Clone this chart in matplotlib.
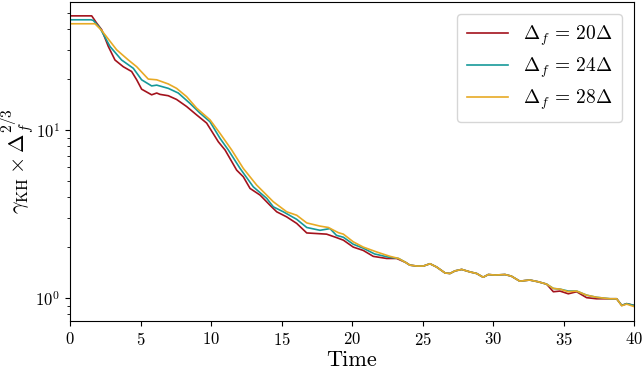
import matplotlib
matplotlib.use("Agg")
import matplotlib.pyplot as plt

plt.rcParams['mathtext.fontset'] = 'cm'
plt.rcParams['font.family'] = 'serif'
plt.rcParams['font.serif'] = ['cmr10', 'DejaVu Serif']
plt.rcParams['axes.formatter.use_mathtext'] = True
plt.rcParams['axes.unicode_minus'] = False

# values
t_20 = [0, 1.4, 1.54, 1.89, 2.25, 2.72, 3.19, 3.78, 4.37, 4.73, 5.08, 5.79, 6.15, 6.38, 6.97,
        7.56, 8.27, 8.98, 9.69, 10.52, 11.0, 11.82, 12.29, 12.77, 13.48, 14.18, 14.66, 15.37,
        16.08, 16.79, 17.5, 18.2, 18.9, 19.39, 20.09, 20.8, 21.51, 22.46, 23.17, 23.8, 24.1,
        24.6, 25.06, 25.53, 26.0, 26.6, 26.95, 27.3, 27.78, 28.37, 28.84, 29.3, 29.67, 30.14,
        30.85, 31.3, 31.9, 32.6, 33.2, 33.8, 34.28, 34.75, 35.34, 35.93, 36.64, 37.35, 38.3,
        38.77, 39.13, 39.48, 40.0]
g_20 = [47.8, 47.8, 47.8, 43.3, 39.5, 31.4, 26.1, 23.8, 22.3, 19.9, 17.5, 16.2, 16.6, 16.3, 16.0,
        15.2, 13.8, 12.3, 11.0, 8.51, 7.60, 5.77, 5.27, 4.49, 4.10, 3.57, 3.26, 3.04,
        2.78, 2.44, 2.42, 2.40, 2.29, 2.21, 2.01, 1.92, 1.77, 1.72, 1.72, 1.63, 1.57,
        1.55, 1.55, 1.60, 1.53, 1.41, 1.40, 1.45, 1.48, 1.43, 1.40, 1.33, 1.38, 1.37,
        1.38, 1.35, 1.26, 1.28, 1.25, 1.21, 1.09, 1.10, 1.06, 1.09, 1.005, 0.99, 0.99,
        0.99, 0.904, 0.926, 0.904]

t_24 = [0, 1.5, 1.65, 2.13, 2.84, 3.66, 4.49, 5.08, 5.79, 6.15, 6.97, 7.68, 8.51, 9.22, 9.93,
        10.64, 11.23, 12.06, 13.0, 13.95, 14.42, 15.13, 16.08, 16.79, 17.73, 18.44, 18.9,
        19.39, 20.09, 20.8, 21.6, 22.6, 23.3, 23.8, 24.1, 24.6, 25.06, 25.53, 26.0, 26.6,
        26.95, 27.3, 27.78, 28.37, 28.84, 29.3, 29.67, 30.14, 30.85, 31.3, 31.9, 32.6, 33.2,
        33.8, 34.28, 34.75, 35.34, 35.93, 36.64, 37.35, 38.3, 38.77, 39.13, 39.48, 40.0]
g_24 = [45.3, 45.3, 44.9, 40.4, 31.4, 26.1, 23.3, 19.9, 18.3, 18.5, 17.7, 16.6, 14.4, 12.6, 11.2,
        8.92, 7.60, 5.91, 4.59, 3.92, 3.49, 3.26, 2.94, 2.63, 2.53, 2.59, 2.36,
        2.30, 2.09, 1.98, 1.83, 1.75, 1.72, 1.63, 1.57, 1.55, 1.55, 1.60, 1.53, 1.41,
        1.40, 1.45, 1.48, 1.43, 1.40, 1.33, 1.38, 1.37, 1.38, 1.35, 1.26, 1.28, 1.25,
        1.21, 1.14, 1.13, 1.10, 1.10, 1.04, 1.01, 0.99, 0.99, 0.904, 0.926, 0.904]

t_28 = [0, 1.6, 1.77, 2.25, 3.31, 4.14, 4.73, 5.55, 6.15, 6.97, 7.56, 8.27, 8.98, 9.93, 10.64,
        11.47, 12.29, 13.24, 14.42, 15.37, 16.08, 16.79, 17.73, 18.32, 19.03, 19.39, 20.09,
        20.8, 21.75, 22.7, 23.3, 23.8, 24.1, 24.6, 25.06, 25.53, 26.0, 26.6, 26.95, 27.3,
        27.78, 28.37, 28.84, 29.3, 29.67, 30.14, 30.85, 31.3, 31.9, 32.6, 33.2, 33.8, 34.28,
        34.75, 35.34, 35.93, 36.64, 37.35, 38.3, 38.77, 39.13, 39.48, 40.0]
g_28 = [42.9, 42.9, 42.9, 39.1, 30.0, 26.1, 23.8, 20.1, 19.9, 18.8, 17.7, 15.8, 13.5, 11.5, 9.55,
        7.60, 5.91, 4.70, 3.74, 3.26, 3.11, 2.80, 2.68, 2.63, 2.45, 2.40, 2.16,
        2.01, 1.88, 1.77, 1.72, 1.63, 1.57, 1.55, 1.55, 1.60, 1.53, 1.41, 1.40, 1.45,
        1.48, 1.43, 1.40, 1.33, 1.38, 1.37, 1.38, 1.35, 1.26, 1.28, 1.25, 1.21, 1.14,
        1.13, 1.09, 1.10, 1.04, 1.01, 0.99, 0.99, 0.90, 0.92, 0.89]

labels = [r'$\Delta_f\,=\,20\Delta$', r'$\Delta_f\,=\,24\Delta$', r'$\Delta_f\,=\,28\Delta$']
colors = ['#a3121c', '#16999a', '#e8aa25']

fig = plt.figure(figsize=(6.43, 3.76), dpi=100)
ax = fig.add_axes([70 / 643, 55 / 376, 564 / 643, 319 / 376])

ax.plot(t_20, g_20, color=colors[0], lw=1.2, label=labels[0])
ax.plot(t_24, g_24, color=colors[1], lw=1.2, label=labels[1])
ax.plot(t_28, g_28, color=colors[2], lw=1.2, label=labels[2])

ax.set_yscale('log')
ax.set_xlim(0, 40)
ax.set_ylim(0.73, 57.8)
ax.set_xticks([0, 5, 10, 15, 20, 25, 30, 35, 40])
ax.tick_params(labelsize=12)
ax.set_xlabel('Time', fontsize=16, labelpad=2)
ax.set_ylabel(r'$\gamma_{\rm KH} \times \Delta_f^{2/3}$', fontsize=16)
ax.yaxis.set_label_coords(-0.06, 0.5)
ax.legend(loc='upper right', fontsize=14, labelspacing=0.4, handlelength=2.1,
          borderpad=0.5, borderaxespad=0.6)

fig.savefig('out.png', dpi=100)
